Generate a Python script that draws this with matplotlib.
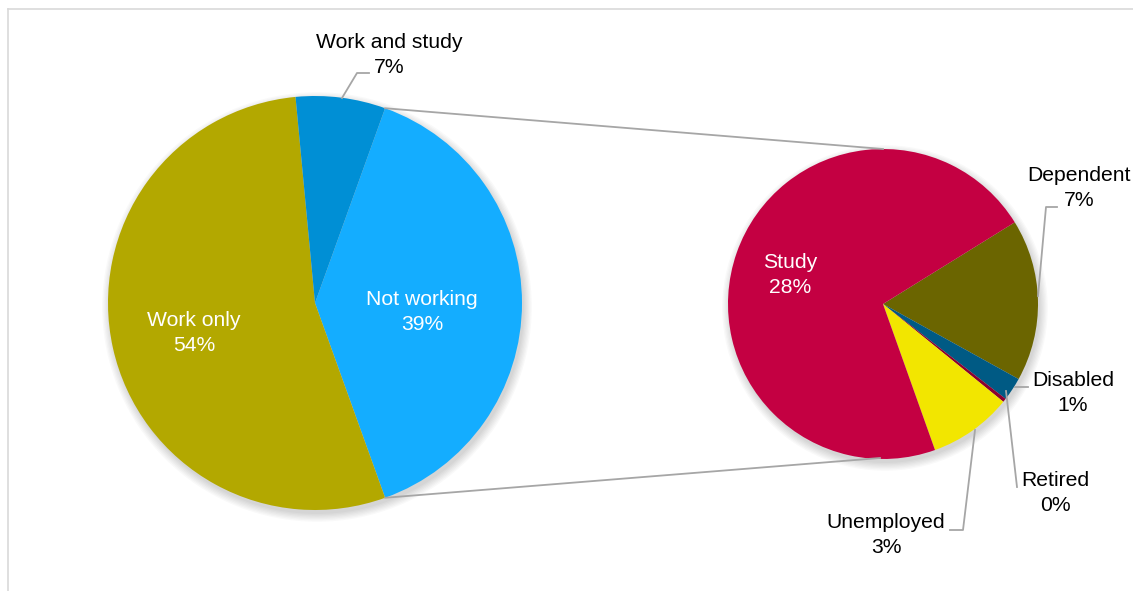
import matplotlib
matplotlib.use("Agg")
import matplotlib.pyplot as plt
from matplotlib.patches import Circle
import numpy as np

plt.rcParams["font.family"] = ["Liberation Sans", "DejaVu Sans"]

# Primary pie
main_labels = ["Not working", "Work only", "Work and study"]
main_values = [39, 54, 7]
main_colors = ["#14ADFF", "#B3A800", "#008FD5"]

# Secondary pie (breakdown of "Not working", % of total)
sub_labels = ["Dependent", "Disabled", "Retired", "Unemployed", "Study"]
sub_values = [6.6, 0.95, 0.15, 3.4, 28.0]
sub_colors = ["#6B6500", "#005A84", "#8C0030", "#F2E600", "#C40042"]

W, H = 1133, 591
fig = plt.figure(figsize=(W / 100, H / 100), dpi=100)
ax = fig.add_axes([0, 0, 1, 1])

FS = 15.2
GRAY = "#A6A6A6"


def py(y):
    return H - y


c1, r1 = (315, py(303)), 207
c2, r2 = (883, py(304)), 155

# soft shadows
for c, r in ((c1, r1), (c2, r2)):
    for i in range(7):
        ax.add_patch(Circle((c[0] + 2, c[1] - 4), r + i * 1.3, color="black",
                            alpha=0.022, lw=0, zorder=0))

start1 = main_values[0] / sum(main_values) * 180
ax.pie(main_values, colors=main_colors, center=c1, radius=r1,
       startangle=start1, counterclock=False,
       wedgeprops=dict(linewidth=0), frame=True)
ax.pie(sub_values, colors=sub_colors, center=c2, radius=r2,
       startangle=31.8, counterclock=False,
       wedgeprops=dict(linewidth=0), frame=True)

# connector lines between pies
a = np.radians(start1)
ax.plot([c1[0] + r1 * np.cos(a), c2[0]], [c1[1] + r1 * np.sin(a), c2[1] + r2],
        color=GRAY, lw=1.3, zorder=3)
ax.plot([c1[0] + r1 * np.cos(a), c2[0] - 3], [c1[1] - r1 * np.sin(a), c2[1] - r2 + 1],
        color=GRAY, lw=1.3, zorder=3)

# labels
def lab(txt, x, y, color="black"):
    ax.text(x, py(y), txt, ha="center", va="center", fontsize=FS,
            color=color, linespacing=1.35, zorder=5)


lab(f"{main_labels[2]}\n{main_values[2]}%", 389, 55)
lab(f"{main_labels[1]}\n{main_values[1]}%", 194, 333, "white")
lab(f"{main_labels[0]}\n{main_values[0]}%", 422, 312, "white")
lab(f"{sub_labels[4]}\n{sub_values[4]:.0f}%", 790, 275, "white")
lab(f"{sub_labels[0]}\n{sub_values[0]:.0f}%", 1079, 188)
lab(f"{sub_labels[1]}\n{sub_values[1]:.0f}%", 1073, 393)
lab(f"{sub_labels[2]}\n{sub_values[2]:.0f}%", 1055, 493)
lab(f"{sub_labels[3]}\n{sub_values[3]:.0f}%", 886, 535)

# leader lines
leaders = [
    [(342, 98), (357, 73), (369, 73)],
    [(1038, 296), (1046, 207), (1057, 207)],
    [(1015, 387), (1028, 387)],
    [(1006, 391), (1017, 487)],
    [(975, 430), (963, 530), (950, 530)],
]
for pts in leaders:
    xs, ys = zip(*pts)
    ax.plot(xs, [py(v) for v in ys], color=GRAY, lw=1.3, zorder=4)

# chart area frame (top and left edges visible)
ax.plot([8, W], [py(9), py(9)], color="#D9D9D9", lw=1.2, zorder=1)
ax.plot([8, 8], [py(9), 0], color="#D9D9D9", lw=1.2, zorder=1)

ax.set_xlim(0, W)
ax.set_ylim(0, H)
ax.set_aspect("equal")
ax.axis("off")

fig.savefig("out.png", dpi=100)
